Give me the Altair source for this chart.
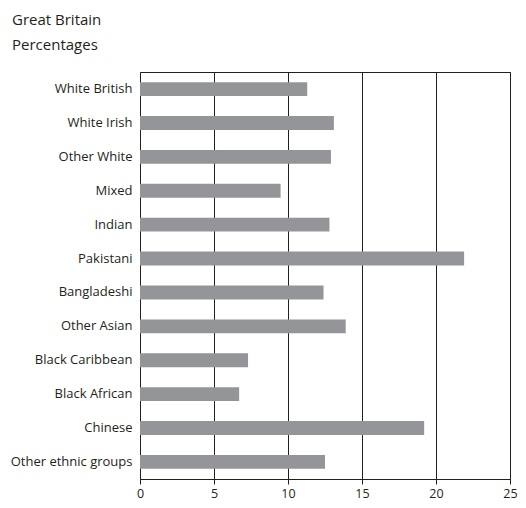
import altair as alt
import pandas as pd

groups = ["White British", "White Irish", "Other White", "Mixed", "Indian", "Pakistani",
          "Bangladeshi", "Other Asian", "Black Caribbean", "Black African", "Chinese",
          "Other ethnic groups"]
values = [11.3, 13.1, 12.9, 9.5, 12.8, 21.9, 12.4, 13.9, 7.3, 6.7, 19.2, 12.5]
x_ticks = [0, 5, 10, 15, 20, 25]

df = pd.DataFrame({"group": groups, "value": values})

FONT = "Open Sans"
INK = "#231f20"

chart = alt.Chart(df).mark_bar(color="#939598").encode(
    x=alt.X("value:Q", scale=alt.Scale(domain=[0, 25], nice=False),
            axis=alt.Axis(values=x_ticks, title=None, grid=True, gridColor=INK, gridOpacity=1,
                          gridWidth=1, domainColor=INK, tickColor=INK, tickSize=5,
                          labelFontSize=12.5, labelColor=INK, labelFont=FONT, labelPadding=3,
                          labelFlush=False)),
    y=alt.Y("group:N", sort=groups,
            scale=alt.Scale(paddingInner=0.59, paddingOuter=0.3),
            axis=alt.Axis(title=None, ticks=False, domain=False, labelFontSize=13,
                          labelColor=INK, labelFont=FONT, labelPadding=8)),
).properties(
    width=370, height=407,
    title=alt.Title(["Great Britain", "Percentages"], anchor="start", frame="group",
                    dx=-128, fontSize=15, font=FONT, fontWeight="normal", color=INK,
                    lineHeight=25, offset=19),
    padding={"left": 132, "top": 64, "right": 8, "bottom": 21},
    autosize=alt.AutoSizeParams(type="none"),
).configure_view(stroke=INK, strokeWidth=1)

chart.save("out.html", embed_options={"renderer": "svg", "actions": False})
